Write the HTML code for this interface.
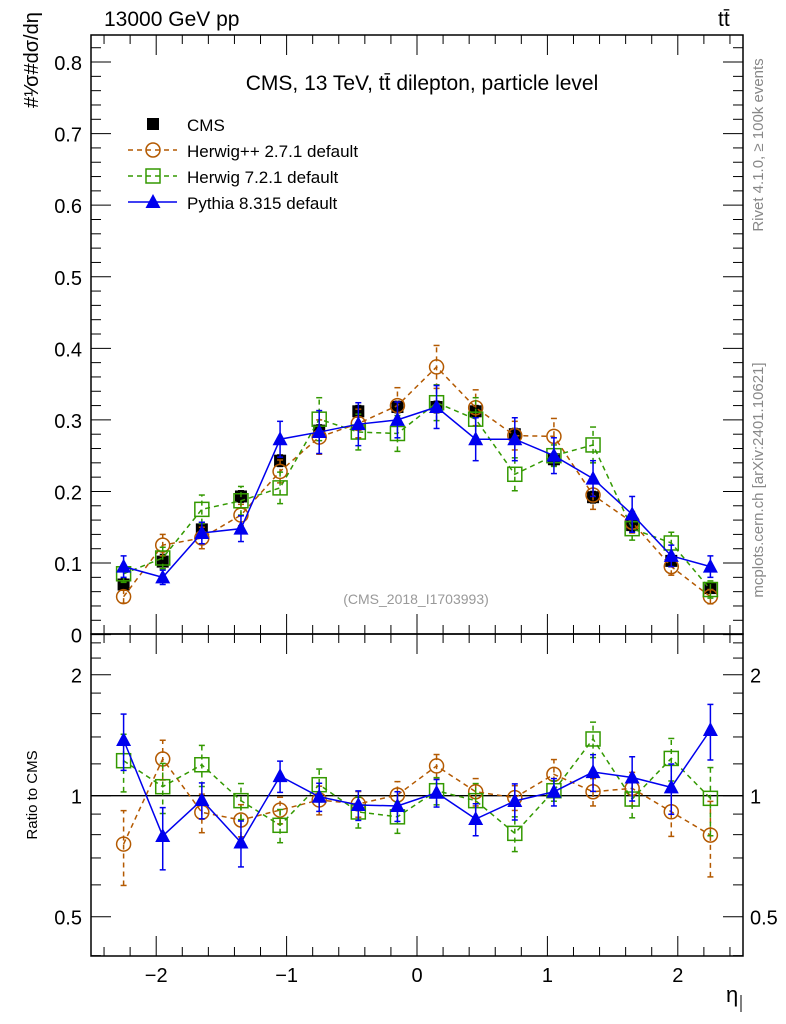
<!DOCTYPE html>
<html><head><meta charset="utf-8"><style>
body{margin:0;background:#fff;}
svg{display:block;font-family:"Liberation Sans",sans-serif;}
</style></head><body>
<svg id="c" width="786" height="1024" xmlns="http://www.w3.org/2000/svg"></svg>
<script>
const xCenters=[-2.25,-1.95,-1.65,-1.35,-1.05,-0.75,-0.45,-0.15,0.15,0.45,0.75,1.05,1.35,1.65,1.95,2.25];
const cmsVals=[0.070,0.102,0.147,0.193,0.243,0.285,0.312,0.318,0.318,0.312,0.280,0.245,0.192,0.153,0.103,0.065];
const cmsErr=[0.008,0.010,0.010,0.008,0.008,0.008,0.008,0.008,0.008,0.008,0.008,0.008,0.008,0.008,0.008,0.006];
const hppVals=[0.053,0.125,0.135,0.167,0.228,0.276,0.295,0.320,0.374,0.317,0.278,0.277,0.195,0.157,0.095,0.053];
const hppErr=[0.009,0.015,0.015,0.015,0.016,0.024,0.020,0.025,0.030,0.025,0.020,0.025,0.020,0.015,0.012,0.010];
const h7Vals=[0.085,0.107,0.175,0.187,0.205,0.301,0.283,0.281,0.324,0.301,0.224,0.250,0.265,0.148,0.128,0.063];
const h7Err=[0.012,0.015,0.020,0.020,0.022,0.030,0.025,0.025,0.025,0.030,0.023,0.015,0.025,0.016,0.015,0.012];
const pyVals=[0.095,0.080,0.142,0.148,0.273,0.283,0.294,0.300,0.318,0.273,0.273,0.250,0.218,0.168,0.110,0.095];
const pyErr=[0.015,0.010,0.015,0.018,0.025,0.030,0.030,0.025,0.030,0.030,0.030,0.025,0.025,0.025,0.015,0.015];
const hppRatio=[0.758,1.234,0.909,0.870,0.921,0.976,0.954,1.004,1.186,1.023,0.989,1.130,1.023,1.043,0.912,0.798];
const hppRErr=[0.16,0.14,0.10,0.08,0.07,0.08,0.07,0.08,0.08,0.08,0.07,0.10,0.08,0.10,0.12,0.17];
const h7Ratio=[1.222,1.053,1.194,0.972,0.844,1.065,0.911,0.886,1.029,0.972,0.806,1.029,1.384,0.981,1.238,0.985];
const h7RErr=[0.20,0.15,0.14,0.10,0.08,0.10,0.08,0.08,0.08,0.10,0.08,0.06,0.14,0.10,0.15,0.19];
const pyRatio=[1.376,0.794,0.976,0.765,1.119,0.994,0.948,0.943,1.017,0.875,0.970,1.023,1.145,1.110,1.049,1.457];
const pyRErr=[0.22,0.14,0.10,0.10,0.10,0.08,0.08,0.08,0.08,0.08,0.10,0.08,0.12,0.14,0.15,0.23];
const mainTicks=[0,0.1,0.2,0.3,0.4,0.5,0.6,0.7,0.8];
const ratioTicks=[0.5,1,2];
const xTicks=[-2,-1,0,1,2];

const L=91,R=743,T=35,M=634,B=956;
const X=v=>L+(v+2.5)/5*(R-L);
const Y=v=>634.6-v*715.7;
const YR=v=>795.7-121*Math.log2(v);
const svg=document.getElementById('c');
const NS='http://www.w3.org/2000/svg';
function el(tag,attrs,parent){const e=document.createElementNS(NS,tag);for(const k in attrs)e.setAttribute(k,attrs[k]);(parent||svg).appendChild(e);return e;}
function txt(s,attrs){const e=el('text',attrs);e.textContent=s;return e;}

const f1=el('rect',{x:L,y:T,width:R-L,height:M-T,fill:'none',stroke:'#000','stroke-width':1.5});


const f2=el('rect',{x:L,y:M,width:R-L,height:B-M,fill:'none',stroke:'#000','stroke-width':1.5});



for(let v=-2.4;v<=2.41;v+=0.2){
  const x=X(v);const major=xTicks.some(t=>Math.abs(t-v)<1e-6);
  const len=major?20:9;
  el('line',{x1:x,x2:x,y1:T,y2:T+len,stroke:'#000'});
  el('line',{x1:x,x2:x,y1:M,y2:M-len,stroke:'#000'});
  el('line',{x1:x,x2:x,y1:M,y2:M+len,stroke:'#000'});
  el('line',{x1:x,x2:x,y1:B,y2:B-len,stroke:'#000'});
}
xTicks.forEach(t=>{const e=txt(t<0?'\u2212'+(-t):String(t),{x:X(t),y:982,'font-size':20,'text-anchor':'middle'});

});
for(let i=0;i<=41;i++){const v=i*0.02;const y=Y(v);if(y<T)break;const major=i%5==0;const len=major?20:10;
  el('line',{x1:L,x2:L+len,y1:y,y2:y,stroke:'#000'});el('line',{x1:R,x2:R-len,y1:y,y2:y,stroke:'#000'});}
mainTicks.forEach(t=>{const e=txt(t===0?'0':t.toFixed(1),{x:82,y:Y(t)+8,'font-size':20,'text-anchor':'end'});

});
const rMinor=[0.4,0.6,0.7,0.8,0.9,1.2,1.4,1.6,1.8,2.2,2.4];
rMinor.forEach(v=>{const y=YR(v);if(y<M||y>B)return;el('line',{x1:L,x2:L+10,y1:y,y2:y,stroke:'#000'});el('line',{x1:R,x2:R-10,y1:y,y2:y,stroke:'#000'});});
ratioTicks.forEach(t=>{const y=YR(t);el('line',{x1:L,x2:L+20,y1:y,y2:y,stroke:'#000'});el('line',{x1:R,x2:R-20,y1:y,y2:y,stroke:'#000'});
 const a=txt(String(t),{x:82,y:y+8,'font-size':20,'text-anchor':'end'});
 
 
 const b=txt(String(t),{x:750,y:y+8,'font-size':20});
 
 });
el('line',{x1:L,x2:R,y1:YR(1),y2:YR(1),stroke:'#000','stroke-width':1.3});

function marker(type,x,y,c,g){
  if(type==='sq') el('rect',{x:x-6,y:y-6,width:12,height:12,fill:'#000'},g);
  if(type==='circ') el('circle',{cx:x,cy:y,r:7,fill:'none',stroke:c,'stroke-width':1.5},g);
  if(type==='osq') el('rect',{x:x-7,y:y-7,width:14,height:14,fill:'none',stroke:c,'stroke-width':1.5},g);
  if(type==='tri') el('polygon',{points:`${x},${y-8} ${x-7.5},${y+6} ${x+7.5},${y+6}`,fill:c},g);
}
function series(name,vals,errs,yf,c,dash,type,line){
  const g=el('g',{});
  
  
  if(line){el('polyline',{points:xCenters.map((x,i)=>X(x)+','+yf(vals[i])).join(' '),fill:'none',stroke:c,'stroke-width':1.5,'stroke-dasharray':dash},g);}
  xCenters.forEach((x,i)=>{const xx=X(x),y1=yf(vals[i]-errs[i]),y2=yf(vals[i]+errs[i]);
    el('line',{x1:xx,x2:xx,y1:y1,y2:y2,stroke:c,'stroke-width':1.5,'stroke-dasharray':dash},g);
    el('line',{x1:xx-3,x2:xx+3,y1:y1,y2:y1,stroke:c,'stroke-width':1.5},g);
    el('line',{x1:xx-3,x2:xx+3,y1:y2,y2:y2,stroke:c,'stroke-width':1.5},g);
    marker(type,xx,yf(vals[i]),c,g);});
}
series('cms-data',cmsVals,cmsErr,Y,'#000','','sq',false);
series('herwigpp-series',hppVals,hppErr,Y,'#b35900','5,4','circ',true);
series('herwig7-series',h7Vals,h7Err,Y,'#339900','5,4','osq',true);
series('pythia-series',pyVals,pyErr,Y,'#0000ee','','tri',true);
series('herwigpp-ratio',hppRatio,hppRErr,YR,'#b35900','5,4','circ',true);
series('herwig7-ratio',h7Ratio,h7RErr,YR,'#339900','5,4','osq',true);
series('pythia-ratio',pyRatio,pyRErr,YR,'#0000ee','','tri',true);

const legend=[['CMS','#000','','sq',false],['Herwig++ 2.7.1 default','#b35900','5,4','circ',true],['Herwig 7.2.1 default','#339900','5,4','osq',true],['Pythia 8.315 default','#0000ee','','tri',true]];
legend.forEach((l,i)=>{const y=124+i*26;const g=el('g',{});
  
  
  if(l[4]) el('line',{x1:128,x2:177,y1:y,y2:y,stroke:l[1],'stroke-width':1.5,'stroke-dasharray':l[2]},g);
  marker(l[3],153,y,l[1],g);
  const t=el('text',{x:187,y:y+7,'font-size':17},g);t.textContent=l[0];});

const labels=[
 ['13000 GeV pp',{x:104,y:26,'font-size':21},'energy-label'],
 ['tt\u0304',{x:718,y:26,'font-size':21},'process-label'],
 ['CMS, 13 TeV, tt\u0304 dilepton, particle level',{x:422,y:90,'font-size':21,'text-anchor':'middle'},'plot-title'],
 ['(CMS_2018_I1703993)',{x:416,y:604,'font-size':14,fill:'#999','text-anchor':'middle'},'analysis-id'],
 ['η',{x:726,y:1002,'font-size':22},'x-axis-title'],
];
labels.forEach(l=>{const e=txt(l[0],l[1]);});
el('line',{x1:741,x2:741,y1:995,y2:1012,stroke:'#000'});
const yt=txt('#\u00B9⁄σ#dσ/dη',{x:0,y:0,'font-size':20,transform:'translate(38,108) rotate(-90)'});


const rt=txt('Ratio to CMS',{x:0,y:0,'font-size':15,'text-anchor':'middle',transform:'translate(37,795) rotate(-90)'});


const s1=txt('Rivet 4.1.0, ≥ 100k events',{x:0,y:0,'font-size':15,fill:'#888','text-anchor':'middle',transform:'translate(763,145) rotate(-90)'});


const s2=txt('mcplots.cern.ch [arXiv:2401.10621]',{x:0,y:0,'font-size':15,fill:'#888','text-anchor':'middle',transform:'translate(763,480) rotate(-90)'});


</script>
</body></html>
